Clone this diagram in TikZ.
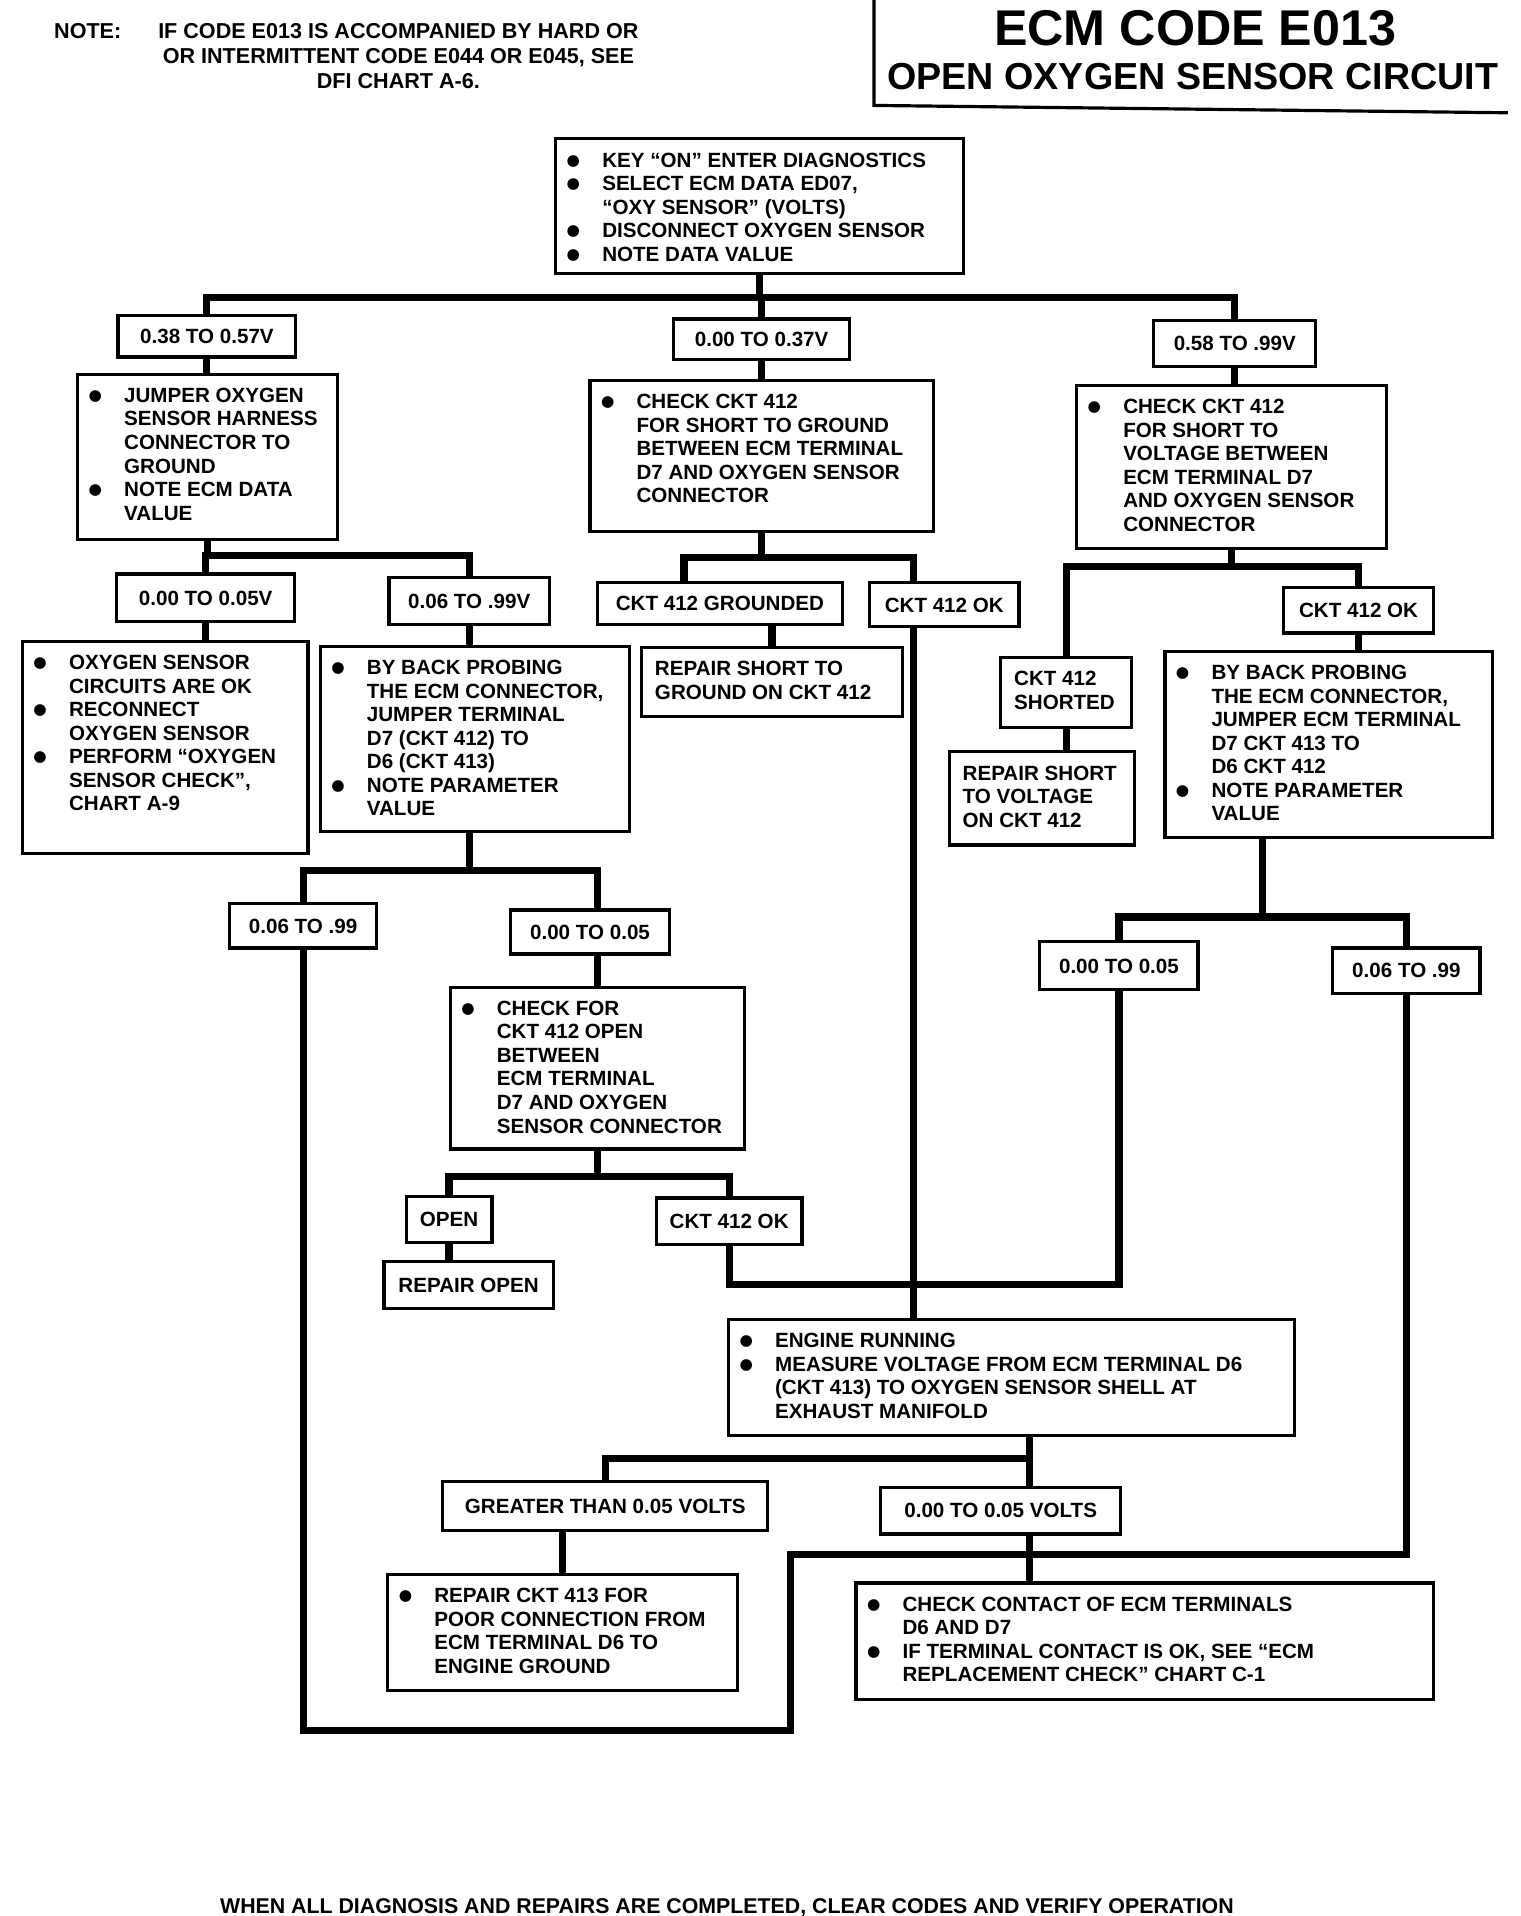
\documentclass[tikz,border=0pt]{standalone}
\usepackage{fontspec}
\setmainfont{Liberation Sans}
\newfontfamily\dejavu{DejaVu Sans}
\setlength\parskip{0pt}
\newcommand{\bxfont}{\fontsize{16.8}{19.2}\selectfont\bfseries}
\newcommand{\nofont}{\fontsize{17.6}{20.5}\selectfont\bfseries}
\newlength\bxind \setlength\bxind{38pt}
\newcommand{\bxitem}[1]{\par\noindent\hangindent=\bxind\hangafter=1\makebox[\bxind][l]{\hspace*{9pt}\raisebox{1.5pt}{\dejavu\fontsize{12.5}{12.5}\selectfont ●}}\rule{0pt}{13pt}#1\par}
\newcommand{\bxplain}[1]{\par\noindent\hangindent=11pt\hangafter=0\rule{0pt}{13pt}#1\par}
\newcommand{\bxtext}[3]{\begin{minipage}[c][#2pt][t]{#1pt}\hbadness=10000\vspace*{10pt}#3\end{minipage}}
\begin{document}
\begin{tikzpicture}[x=1pt,y=-1pt,
  box/.style={draw, line width=2.6pt, inner sep=0pt, anchor=north west, font=\bxfont},
  lab/.style={draw, line width=2.6pt, inner sep=0pt, anchor=north west, font=\bxfont, text height=12pt, text depth=0pt},
  conn/.style={line width=5.8pt, line join=miter},
  frame/.style={line width=2.6pt}]
\fill[white] (0,0) rectangle (1240,1563);
\useasboundingbox (0,0) rectangle (1240,1563);

% header
\node[anchor=base west, font=\nofont, inner sep=0pt] (nt) at (44,31) {NOTE:};
\node[anchor=north, align=center, inner sep=0pt, font=\nofont] (ntx) at (325,19) {IF CODE E013 IS ACCOMPANIED BY HARD OR\\OR INTERMITTENT CODE E044 OR E045, SEE\\DFI CHART A-6.};
\coordinate (f1) at (713,0);
\coordinate (f2) at (713,86);
\coordinate (f3) at (1230,92);
\draw[frame] (f1) -- (f2) -- (f3);
\node[anchor=base, inner sep=0pt, font=\fontsize{41}{41}\selectfont\bfseries] (t1) at (975,37) {ECM CODE E013};
\node[anchor=base, inner sep=0pt, font=\fontsize{30.7}{31}\selectfont\bfseries] (t2) at (973,73) {OPEN OXYGEN SENSOR CIRCUIT};

% boxes
\node[box] (top) at (452,112) {\bxtext{333}{110}{\bxitem{KEY “ON” ENTER DIAGNOSTICS}\bxitem{SELECT ECM DATA ED07,\\“OXY SENSOR” (VOLTS)}\bxitem{DISCONNECT OXYGEN SENSOR}\bxitem{NOTE DATA VALUE}}};
\node[lab, minimum width=145pt, minimum height=34pt] (L1) at (95,256) {0.38 TO 0.57V};
\node[lab, minimum width=144pt, minimum height=33pt] (M1) at (548,259) {0.00 TO 0.37V};
\node[lab, minimum width=132pt, minimum height=38pt] (R1) at (940,260) {0.58 TO .99V};
\node[box] (L2) at (62,304) {\bxtext{212}{135}{\bxitem{JUMPER OXYGEN\\SENSOR HARNESS\\CONNECTOR TO\\GROUND}\bxitem{NOTE ECM DATA\\VALUE}}};
\node[box] (M2) at (480,309) {\bxtext{280}{123}{\bxitem{CHECK CKT 412\\FOR SHORT TO GROUND\\BETWEEN ECM TERMINAL\\D7 AND OXYGEN SENSOR\\CONNECTOR}}};
\node[box] (R2) at (877,313) {\bxtext{253}{133}{\bxitem{CHECK CKT 412\\FOR SHORT TO\\VOLTAGE BETWEEN\\ECM TERMINAL D7\\AND OXYGEN SENSOR\\CONNECTOR}}};
\node[lab, minimum width=145pt, minimum height=39pt] (L3a) at (94,467) {0.00 TO 0.05V};
\node[lab, minimum width=131pt, minimum height=38pt] (L3b) at (316,470) {0.06 TO .99V};
\node[lab, minimum width=200pt, minimum height=34pt] (M3a) at (486,474) {CKT 412 GROUNDED};
\node[lab, minimum width=122pt, minimum height=36pt] (M3b) at (708,474) {CKT 412 OK};
\node[lab, minimum width=122pt, minimum height=37pt] (R3b) at (1046,478) {CKT 412 OK};
\node[box] (L4a) at (17,522) {\bxtext{233}{173}{\bxitem{OXYGEN SENSOR\\CIRCUITS ARE OK}\bxitem{RECONNECT\\OXYGEN SENSOR}\bxitem{PERFORM “OXYGEN\\SENSOR CHECK”,\\CHART A-9}}};
\node[box] (L4b) at (260,526) {\bxtext{252}{151}{\bxitem{BY BACK PROBING\\THE ECM CONNECTOR,\\JUMPER TERMINAL\\D7 (CKT 412) TO\\D6 (CKT 413)}\bxitem{NOTE PARAMETER\\VALUE}}};
\node[box] (M4) at (522,527) {\bxtext{213}{56}{\bxplain{REPAIR SHORT TO\\GROUND ON CKT 412}}};
\node[box] (R3a) at (815,535) {\bxtext{107}{57}{\bxplain{CKT 412\\SHORTED}}};
\node[box] (R4a) at (773,612) {\bxtext{151}{76}{\bxplain{REPAIR SHORT\\TO VOLTAGE\\ON CKT 412}}};
\node[box] (R4b) at (949,530) {\bxtext{267}{152}{\bxitem{BY BACK PROBING\\THE ECM CONNECTOR,\\JUMPER ECM TERMINAL\\D7 CKT 413 TO\\D6 CKT 412}\bxitem{NOTE PARAMETER\\VALUE}}};
\node[lab, minimum width=120pt, minimum height=36pt] (L5a) at (186,736) {0.06 TO .99};
\node[lab, minimum width=130pt, minimum height=36pt] (L5b) at (415,741) {0.00 TO 0.05};
\node[lab, minimum width=129pt, minimum height=39pt] (R5a) at (847,767) {0.00 TO 0.05};
\node[lab, minimum width=120pt, minimum height=37pt] (R5b) at (1086,772) {0.06 TO .99};
\node[box] (L6) at (366,804) {\bxtext{240}{132}{\bxitem{CHECK FOR\\CKT 412 OPEN\\BETWEEN\\ECM TERMINAL\\D7 AND OXYGEN\\SENSOR CONNECTOR}}};
\node[lab, minimum width=70pt, minimum height=37pt] (L7a) at (330,975) {OPEN};
\node[lab, minimum width=119pt, minimum height=38pt] (L7b) at (534,976) {CKT 412 OK};
\node[lab, minimum width=138pt, minimum height=38pt] (L8) at (312,1028) {REPAIR OPEN};
\node[box] (E) at (593,1075) {\bxtext{462}{95}{\bxitem{ENGINE RUNNING}\bxitem{MEASURE VOLTAGE FROM ECM TERMINAL D6\\(CKT 413) TO OXYGEN SENSOR SHELL AT\\EXHAUST MANIFOLD}}};
\node[lab, minimum width=265pt, minimum height=40pt] (G) at (360,1207) {GREATER THAN 0.05 VOLTS};
\node[lab, minimum width=196pt, minimum height=38pt] (V) at (717,1212) {0.00 TO 0.05 VOLTS};
\node[box] (RC) at (315,1283) {\bxtext{285}{95}{\bxitem{REPAIR CKT 413 FOR\\POOR CONNECTION FROM\\ECM TERMINAL D6 TO\\ENGINE GROUND}}};
\node[box] (CC) at (697,1290) {\bxtext{471}{95}{\bxitem{CHECK CONTACT OF ECM TERMINALS\\D6 AND D7}\bxitem{IF TERMINAL CONTACT IS OK, SEE “ECM\\REPLACEMENT CHECK” CHART C-1}}};

\node[anchor=base, inner sep=0pt, font=\fontsize{17.4}{20}\selectfont\bfseries] (foot) at (593,1561) {WHEN ALL DIAGNOSIS AND REPAIRS ARE COMPLETED, CLEAR CODES AND VERIFY OPERATION};

% bus levels and columns
\coordinate (b1) at (0,243);
\coordinate (b2) at (0,453);
\coordinate (b3) at (0,455);
\coordinate (b4) at (0,462);
\coordinate (b5) at (0,710);
\coordinate (b6) at (0,748);
\coordinate (b7) at (0,960);
\coordinate (b8) at (0,1048);
\coordinate (b9) at (0,1190);
\coordinate (b10) at (0,1268);
\coordinate (b11) at (0,1412);
\coordinate (cA) at (558,0);
\coordinate (c745) at (745,0);
\coordinate (cB) at (1030,0);
\coordinate (cL) at (645,0);
\coordinate (c840) at (840,0);

% connectors
\draw[conn] (top.south) -- (top.south |- b1);
\draw[conn] (L1.north) |- (b1 -| R1.north) -- (R1.north);
\draw[conn] (M1.north |- b1) -- (M1.north);
\draw[conn] (L1.south) -- (L1.south |- L2.north);
\draw[conn] (M1.south) -- (M1.south |- M2.north);
\draw[conn] (R1.south) -- (R1.south |- R2.north);
\draw[conn] (L2.south) -- (L2.south |- b2);
\draw[conn] (L3a.north) |- (b2 -| L3b.north) -- (L3b.north);
\draw[conn] (L3a.south) -- (L3a.south |- L4a.north);
\draw[conn] (L3b.south) -- (L3b.south |- L4b.north);
\draw[conn] (L4b.south -| L3b.south) -- (b5 -| L3b.south);
\draw[conn] (L5a.north) |- (b5 -| L6.north) -- (L5b.north -| L6.north);
\draw[conn] (L5b.south -| L6.north) -- (L6.north);
\draw[conn] (L6.south) -- (L6.south |- b7);
\draw[conn] (L7a.north) |- (b7 -| L7b.north) -- (L7b.north);
\draw[conn] (L7a.south) -- (L7a.south |- L8.north);
\draw[conn] (M2.south) -- (M2.south |- b3);
\draw[conn] (M3a.north -| cA) |- (b3 -| c745) -- (M3b.north -| c745);
\draw[conn] (M3a.south -| M4.north) -- (M4.north);
\draw[conn] (M3b.south -| c745) -- (E.north -| c745);
\draw[conn] (R2.south) -- (R2.south |- b4);
\draw[conn] (R3a.north) |- (b4 -| R3b.north) -- (R3b.north);
\draw[conn] (R3a.south) -- (R3a.south |- R4a.north);
\draw[conn] (R3b.south) -- (R3b.south |- R4b.north);
\draw[conn] (R4b.south -| cB) -- (b6 -| cB);
\draw[conn] (R5a.north) |- (b6 -| R5b.north) -- (R5b.north);
\draw[conn] (R5a.south) |- (b8 -| L7b.south) -- (L7b.south);
\draw[conn] (R5b.south) |- (b10 -| cL) |- (b11 -| L5a.south) -- (L5a.south);
\draw[conn] (E.south -| c840) -- (b9 -| c840) -| (G.north);
\draw[conn] (b9 -| c840) -- (V.north -| c840);
\draw[conn] (V.south -| c840) -- (CC.north -| c840);
\draw[conn] (G.south -| RC.north) -- (RC.north);
\end{tikzpicture}
\end{document}
